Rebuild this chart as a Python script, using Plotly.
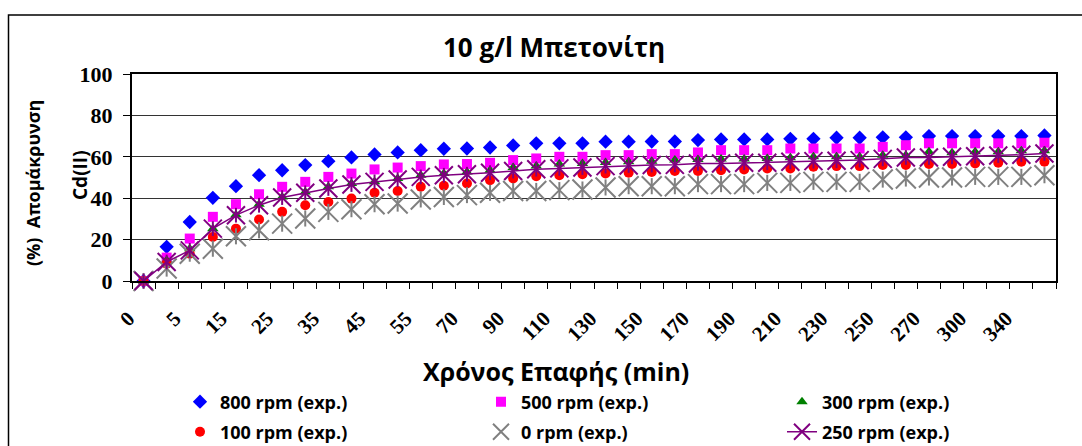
import plotly.graph_objects as go

# Contact time (min) for each sampling point
time_min = [0, 2, 5, 10, 15, 20, 25, 30, 35, 40, 45, 50, 55, 60, 70, 80, 90, 100,
            110, 120, 130, 140, 150, 160, 170, 180, 190, 200, 210, 220, 230, 240,
            250, 260, 270, 280, 300, 320, 340, 360]

# Cd(II) removal (%) at each stirring speed
rpm_800 = [0, 16.5, 28.5, 40.2, 45.8, 51.1, 53.5, 56.0, 57.9, 59.7, 61.1, 62.1, 63.2,
           63.9, 64.0, 64.5, 65.5, 66.5, 66.5, 66.5, 67.3, 67.3, 67.4, 67.4, 68.1,
           68.4, 68.4, 68.4, 68.7, 68.7, 69.2, 69.2, 69.4, 69.4, 70.0, 70.0, 70.0,
           70.0, 70.0, 70.3]
rpm_500 = [0, 11.3, 20.5, 31.0, 37.1, 41.9, 45.5, 47.9, 50.3, 51.9, 53.9, 54.8, 55.5,
           56.3, 56.5, 57.1, 58.4, 59.2, 60.0, 60.0, 60.8, 60.8, 61.3, 61.3, 62.1,
           63.2, 63.2, 63.2, 64.0, 64.0, 64.0, 64.0, 64.8, 65.6, 66.5, 66.5, 66.5,
           66.5, 66.5, 66.8]
rpm_300 = [0, 10.0, 15.6, 25.3, 32.0, 37.1, 40.6, 43.0, 45.5, 47.1, 47.9, 49.5, 51.1,
           51.9, 52.7, 53.5, 54.8, 55.5, 56.5, 56.8, 57.3, 57.6, 57.9, 58.4, 58.7,
           58.9, 58.9, 59.2, 59.5, 60.0, 60.0, 60.0, 60.8, 60.8, 62.4, 62.0, 62.4,
           62.4, 62.9, 62.9]
rpm_100 = [0, 8.4, 13.2, 21.3, 25.3, 29.7, 33.4, 36.6, 38.2, 39.8, 42.6, 43.5, 45.5,
           46.0, 47.1, 48.7, 49.5, 50.6, 51.1, 51.6, 51.9, 52.3, 52.7, 53.1, 53.2,
           53.5, 53.9, 54.4, 54.4, 55.2, 55.5, 55.5, 56.0, 56.0, 56.5, 56.5, 56.8,
           57.1, 57.6, 57.6]
rpm_0 = [0, 6.0, 13.2, 15.6, 21.6, 24.5, 27.7, 30.2, 33.4, 34.7, 37.1, 37.4, 39.4,
         40.6, 41.5, 42.6, 43.5, 43.5, 43.9, 44.2, 45.2, 45.8, 45.8, 45.8, 46.8,
         46.8, 46.8, 47.4, 47.4, 47.9, 47.9, 47.9, 49.0, 49.5, 50.0, 50.0, 50.3,
         50.3, 50.3, 51.1]
rpm_250 = [0, 9.2, 14.8, 25.3, 31.8, 36.6, 40.3, 42.6, 44.7, 46.6, 47.9, 49.0, 50.3,
           51.1, 51.6, 52.3, 53.1, 54.0, 54.4, 54.8, 55.5, 55.8, 56.0, 56.1, 56.8,
           56.8, 57.1, 57.1, 57.6, 57.9, 58.1, 58.4, 59.0, 59.7, 59.7, 60.0, 60.3,
           60.6, 61.0, 61.6]

y_ticks = [0, 20, 40, 60, 80, 100]

x_cat = [str(t) for t in time_min]
# every second time point carries a label
x_labels = [c if i % 2 == 0 else "" for i, c in enumerate(x_cat)]

SERIF = "Liberation Serif"
SANS = "Open Sans"

# figure geometry (px)
W, H = 1082, 446
L, R, T, B = 132, 26, 74, 165
PW, PH = W - L - R, H - T - B


def px_x(p):
    return (p - L) / PW


def px_y(p):
    return (H - B - p) / PH


fig = go.Figure()

fig.add_trace(go.Scatter(
    x=x_cat, y=rpm_800, mode="markers", name="800 rpm (exp.)",
    marker=dict(symbol="diamond", size=11, color="#0000FF"),
    cliponaxis=False, legend="legend", legendgroup="r800"))
fig.add_trace(go.Scatter(
    x=x_cat, y=rpm_500, mode="markers", name="500 rpm (exp.)",
    marker=dict(symbol="square", size=10, color="#FF00FF"),
    cliponaxis=False, legend="legend", legendgroup="r500"))
fig.add_trace(go.Scatter(
    x=x_cat, y=rpm_300, mode="markers", name="300 rpm (exp.)",
    marker=dict(symbol="triangle-up", size=10, color="#008000"),
    cliponaxis=False, legend="legend", legendgroup="r300"))
fig.add_trace(go.Scatter(
    x=x_cat, y=rpm_100, mode="markers", name="100 rpm (exp.)",
    marker=dict(symbol="circle", size=10, color="#FF0000"),
    cliponaxis=False, legend="legend2", legendgroup="r100"))
# star marker for 0 rpm: an X with a vertical stroke
fig.add_trace(go.Scatter(
    x=x_cat, y=rpm_0, mode="markers", name="0 rpm (exp.)",
    marker=dict(symbol="x-thin-open", size=20, color="#808080",
                line=dict(color="#808080", width=2)),
    cliponaxis=False, legend="legend2", legendgroup="r0"))
fig.add_trace(go.Scatter(
    x=x_cat, y=rpm_0, mode="markers", showlegend=False, legendgroup="r0",
    marker=dict(symbol="line-ns-open", size=11.5, color="#808080",
                line=dict(color="#808080", width=2)),
    cliponaxis=False, hoverinfo="skip"))
# 250 rpm: line with star markers
fig.add_trace(go.Scatter(
    x=x_cat, y=rpm_250, mode="lines+markers", name="250 rpm (exp.)",
    line=dict(color="#800080", width=1.5),
    marker=dict(symbol="x-thin-open", size=18, color="#800080",
                line=dict(color="#800080", width=2)),
    cliponaxis=False, legend="legend2", legendgroup="r250"))
fig.add_trace(go.Scatter(
    x=x_cat, y=rpm_250, mode="markers", showlegend=False, legendgroup="r250",
    marker=dict(symbol="line-ns-open", size=10.5, color="#800080",
                line=dict(color="#800080", width=2)),
    cliponaxis=False, hoverinfo="skip"))

legend_common = dict(
    orientation="h", xanchor="left", yanchor="middle",
    entrywidth=256, entrywidthmode="pixels", traceorder="grouped",
    tracegroupgap=0,
    bgcolor="rgba(0,0,0,0)", borderwidth=0,
    font=dict(family=SANS, size=18, color="black", weight="bold"),
    itemclick=False, itemdoubleclick=False,
)

fig.update_layout(
    width=W, height=H,
    margin=dict(l=L, r=R, t=T, b=B, autoexpand=False),
    paper_bgcolor="white", plot_bgcolor="white",
    title=dict(
        text="10 g/l Μπετονίτη", x=px_x(554), xanchor="center",
        y=1 - 48 / H, yanchor="middle", xref="paper",
        font=dict(family=SANS, size=26, color="black", weight="bold")),
    xaxis=dict(
        type="category", categoryorder="array", categoryarray=x_cat,
        range=[-0.5, len(x_cat) - 0.5],
        tickmode="array", tickvals=x_cat, ticktext=x_labels,
        tickson="boundaries", ticks="outside", ticklen=6, tickwidth=1,
        tickcolor="black", tickangle=-45,
        ticklabelstandoff=15, ticklabelshift=-15,
        tickfont=dict(family=SERIF, size=21, color="black", weight="bold"),
        showline=True, linecolor="black", linewidth=2, mirror=True,
        showgrid=False, zeroline=False, fixedrange=True),
    yaxis=dict(
        range=[0, 100], tickmode="array", tickvals=y_ticks,
        ticks="outside", ticklen=7, tickwidth=1, tickcolor="black",
        ticklabelstandoff=6,
        tickfont=dict(family=SERIF, size=22, color="black", weight="bold"),
        showline=True, linecolor="black", linewidth=2, mirror=True,
        showgrid=True, gridcolor="#333333", gridwidth=1,
        zeroline=False, fixedrange=True),
    legend=dict(x=px_x(180), y=px_y(402), **legend_common),
    legend2=dict(x=px_x(180), y=px_y(432), **legend_common),
    showlegend=True,
)

# y-axis title in two lines
fig.add_annotation(
    text="(%)  Απομάκρυνση", xref="paper", yref="paper",
    x=px_x(33), y=px_y(183), textangle=-90, showarrow=False,
    xanchor="center", yanchor="middle",
    font=dict(family=SANS, size=18, color="black", weight="bold"))
fig.add_annotation(
    text="Cd(II)", xref="paper", yref="paper",
    x=px_x(80), y=px_y(175), textangle=-90, showarrow=False,
    xanchor="center", yanchor="middle",
    font=dict(family=SANS, size=19, color="black", weight="bold"))

# x-axis title
fig.add_annotation(
    text="Χρόνος Επαφής (min)", xref="paper", yref="paper",
    x=px_x(556), y=px_y(371), showarrow=False,
    xanchor="center", yanchor="middle",
    font=dict(family=SANS, size=25, color="black", weight="bold"))

# outer chart frame
fig.add_shape(
    type="rect", xref="paper", yref="paper",
    x0=px_x(8.5), y0=px_y(470), x1=px_x(1100), y1=px_y(15),
    line=dict(color="black", width=1.5), layer="below")

fig.write_html("out.html")
